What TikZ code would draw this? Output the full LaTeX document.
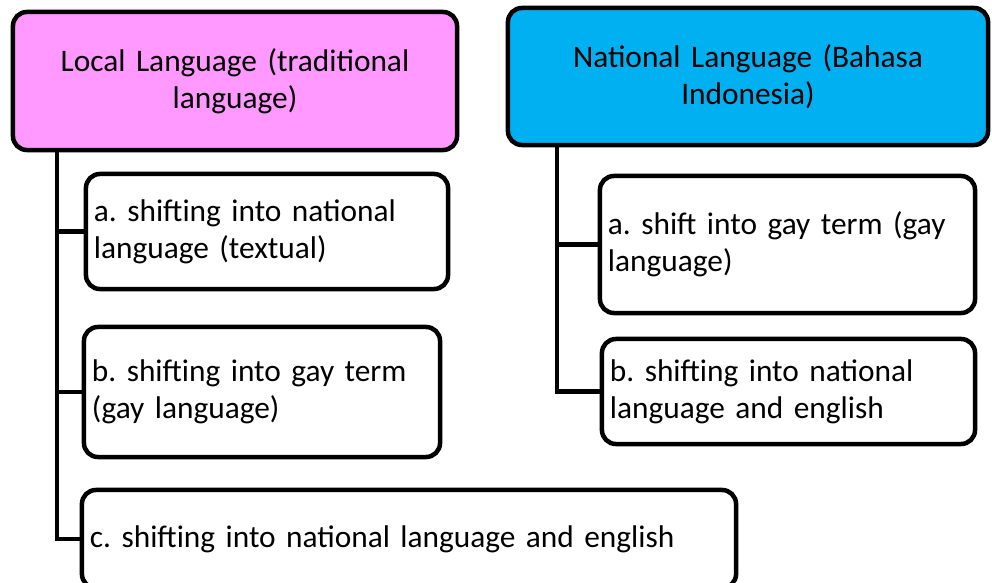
\documentclass[tikz,border=0pt]{standalone}
\usepackage{fontspec}
\setmainfont{Carlito}
\usetikzlibrary{positioning}

\definecolor{localpink}{HTML}{FF99FF}
\definecolor{nationalblue}{HTML}{00B0F0}

\begin{document}
\frenchspacing
\begin{tikzpicture}[x=0.025cm, y=-0.025cm,
        rootnode/.style={rectangle, rounded corners=0.35cm, draw=black, line width=3.2pt, align=center, inner xsep=0.2cm, font=\fontsize{22.3}{26.4}\selectfont},
        childnode/.style={rectangle, rounded corners=0.35cm, draw=black, fill=white, line width=3.2pt, align=left, inner xsep=0.2cm, font=\fontsize{22.3}{26.4}\selectfont},
        branch/.style={draw=black, line width=3pt},
        ]
        \useasboundingbox (0,0) rectangle (992,583);
        %Nodes
        \node[rootnode, fill=localpink, text width=10.7cm, minimum height=3.45cm]      (local)    at (235,81)    {Local Language (traditional\\language)};
        \node[rootnode, fill=nationalblue, text width=11.6cm, minimum height=3.425cm]  (national) at (748,76.5)  {National Language (Bahasa\\Indonesia)};
        \node[childnode, text width=8.65cm, minimum height=2.875cm]   (localtext)    at (267,231.5) {a. shifting into national\\language (textual)};
        \node[childnode, text width=8.5cm, minimum height=3.25cm]     (localgay)     at (262,392)   {b. shifting into gay term\\(gay language)};
        \node[childnode, text width=15.95cm, minimum height=2.45cm]   (localenglish) at (409,539)   {c. shifting into national language and english};
        \node[childnode, text width=8.975cm, minimum height=3.425cm]  (nationalgay)     at (787.5,244.5) {a. shift into gay term (gay\\language)};
        \node[childnode, text width=8.925cm, minimum height=2.625cm]  (nationalenglish) at (788.5,391.5) {b. shifting into national\\language and english};
        \coordinate (localroot)    at (57,150);
        \coordinate (nationalroot) at (557,145);

        %Lines
        \draw[branch] (localroot) |- (localtext.west);
        \draw[branch] (localroot) |- (localgay.west);
        \draw[branch] (localroot) |- (localenglish.west);
        \draw[branch] (nationalroot) |- (nationalgay.west);
        \draw[branch] (nationalroot) |- (nationalenglish.west);
\end{tikzpicture}
\end{document}
